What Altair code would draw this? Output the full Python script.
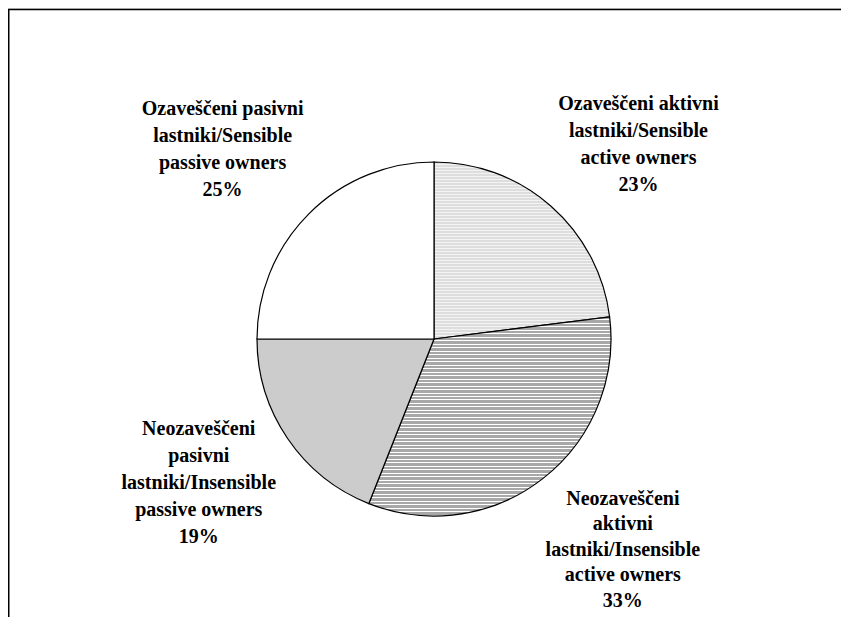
import altair as alt
import pandas as pd

# ---- data ----
keys = ["sa", "ia", "ip", "sp"]
categories = [
    "Ozaveščeni aktivni\nlastniki/Sensible\nactive owners",
    "Neozaveščeni\naktivni\nlastniki/Insensible\nactive owners",
    "Neozaveščeni\npasivni\nlastniki/Insensible\npassive owners",
    "Ozaveščeni pasivni\nlastniki/Sensible\npassive owners",
]
values = [23, 33, 19, 25]
order = [0, 1, 2, 3]

df = pd.DataFrame({"key": keys, "category": categories, "value": values, "order": order})

W, H = 833, 609
CX, CY = 426, 331
R = 177


def stripes(height, period, line, base, linecolor):
    stops = []
    k = 0
    while k * period < height:
        a = min(k * period / height, 1)
        b = min((k * period + (period - line)) / height, 1)
        c = min((k + 1) * period / height, 1)
        stops += [
            {"offset": a, "color": base},
            {"offset": b, "color": base},
            {"offset": b, "color": linecolor},
            {"offset": c, "color": linecolor},
        ]
        k += 1
    return {"gradient": "linear", "x1": 0, "y1": 0, "x2": 0, "y2": 1, "stops": stops}


fills = {
    "sa": stripes(177, 3, 1, "#dedede", "#f3f3f3"),
    "ia": stripes(200, 3.5, 1, "#a8a8a8", "#ffffff"),
    "ip": "#cccccc",
    "sp": "#ffffff",
}

# (dx, dy, line height) for each label
label_style = {
    "sa": (18, 17, 27),
    "ia": (16, -12, 25.5),
    "ip": (-2, -15, 27),
    "sp": (-12, 10, 27),
}

theta_scale = alt.Scale(domain=[0, 100])

base = (
    alt.Chart(df)
    .transform_window(cum="sum(value)", sort=[alt.SortField("order")], frame=[None, 0])
    .transform_calculate(
        start="datum.cum - datum.value",
        mid="datum.cum - datum.value / 2",
        label="datum.category + '\\n' + datum.value + '%'",
    )
)

layers = []
for k in keys:
    layers.append(
        base.transform_filter(alt.datum.key == k)
        .mark_arc(radius=R, fill=fills[k], stroke="#000000", strokeWidth=1.2)
        .encode(
            theta=alt.Theta("start:Q", scale=theta_scale),
            theta2="cum:Q",
            x=alt.value(CX),
            y=alt.value(CY),
        )
    )

for k, cat in zip(keys, categories):
    dx, dy, lh = label_style[k]
    nlines = cat.count("\n") + 2
    dy = dy - (nlines - 1) * lh / 2
    layers.append(
        base.transform_filter(alt.datum.key == k)
        .mark_text(
            radius=282,
            dx=dx,
            dy=dy,
            font="Liberation Serif",
            fontSize=20,
            fontWeight="bold",
            lineBreak="\n",
            lineHeight=lh,
            align="center",
            baseline="middle",
            color="#000000",
        )
        .encode(
            theta=alt.Theta("mid:Q", scale=theta_scale),
            text="label:N",
            x=alt.value(CX),
            y=alt.value(CY),
        )
    )

frame_df = pd.DataFrame({"a": [0]})
top_line = alt.Chart(frame_df).mark_rule(color="#000000", strokeWidth=1.5).encode(
    x=alt.value(0), x2=alt.value(W), y=alt.value(1.5)
)
left_line = alt.Chart(frame_df).mark_rule(color="#000000", strokeWidth=1.5).encode(
    x=alt.value(0.75), y=alt.value(1.5), y2=alt.value(H)
)
layers += [top_line, left_line]

chart = (
    alt.layer(*layers)
    .properties(
        width=W,
        height=H,
        padding=0,
        autosize=alt.AutoSizeParams(type="none"),
    )
    .configure_view(stroke="transparent", strokeWidth=0)
    .configure(background="#ffffff")
)

chart.save("out.html", embed_options={"renderer": "svg", "actions": False})
